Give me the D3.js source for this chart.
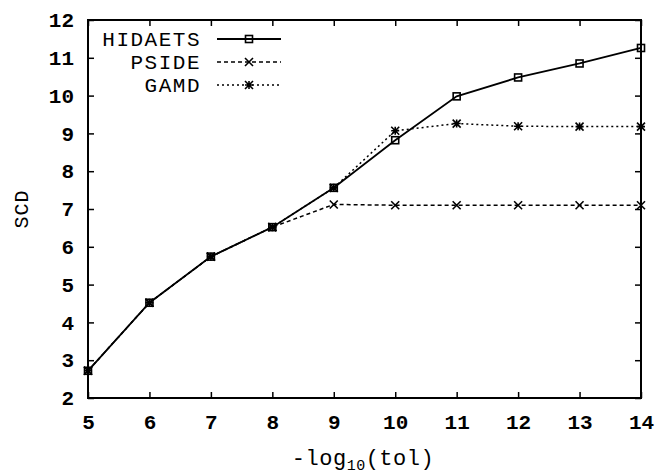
<!DOCTYPE html>
<html><head><meta charset="utf-8">
<script src="https://cdn.jsdelivr.net/npm/d3@7"></script>
<style>body{margin:0;background:#fff}</style>
</head><body>
<svg id="c" width="656" height="474"></svg>
<script>
const xs = [5,6,7,8,9,10,11,12,13,14];
const hidaets = [2.72,4.52,5.74,6.52,7.56,8.82,9.98,10.48,10.85,11.26];
const pside   = [2.72,4.52,5.74,6.52,7.12,7.10,7.10,7.10,7.10,7.10];
const gamd    = [2.72,4.52,5.74,6.52,7.56,9.07,9.26,9.19,9.18,9.18];
const seriesNames = ["HIDAETS","PSIDE","GAMD"];
const xTicks = [5,6,7,8,9,10,11,12,13,14];
const yTicks = [2,3,4,5,6,7,8,9,10,11,12];

const svg = d3.select("#c");
const L=88, R=641, T=20, B=398;
const x = d3.scaleLinear().domain([5,14]).range([L,R]);
const y = d3.scaleLinear().domain([2,12]).range([B,T]);
const font = "'Liberation Mono','DejaVu Sans Mono',monospace";

const axB = d3.axisBottom(x).tickValues(xTicks).tickSize(-6).tickPadding(16).tickFormat(d3.format("d"));
const axT = d3.axisTop(x).tickValues(xTicks).tickSize(-6).tickFormat("");
const axLft = d3.axisLeft(y).tickValues(yTicks).tickSize(-6).tickPadding(14).tickFormat(d3.format("d"));
const axRt = d3.axisRight(y).tickValues(yTicks).tickSize(-6).tickFormat("");

function style(g){
  g.select(".domain").remove();
  g.selectAll("line").attr("stroke","#000").attr("stroke-width",1.5);
  g.selectAll("text").attr("font-family",font).attr("font-size",21).attr("font-weight","bold").attr("fill","#000");
}
svg.append("g").attr("transform",`translate(0,${B})`).call(axB).call(style);
svg.append("g").attr("transform",`translate(0,${T})`).call(axT).call(style);
svg.append("g").attr("transform",`translate(${L},0)`).call(axLft).call(style);
svg.append("g").attr("transform",`translate(${R},0)`).call(axRt).call(style);

svg.append("rect").attr("x",L).attr("y",T).attr("width",R-L).attr("height",B-T)
  .attr("fill","none").attr("stroke","#000").attr("stroke-width",2);

const xt = svg.append("text").attr("x",363).attr("y",465).attr("text-anchor","middle")
  .attr("font-family",font).attr("font-size",22).attr("letter-spacing",0.5).attr("fill","#000");
xt.append("tspan").text("-log");
xt.append("tspan").attr("font-size",15).attr("dy",5).text("10");
xt.append("tspan").attr("dy",-5).text("(tol)");

svg.append("text").attr("transform","translate(28,209) rotate(-90)").attr("text-anchor","middle")
  .attr("font-family",font).attr("font-size",20).attr("letter-spacing",1).attr("fill","#000").text("SCD");

const line = d3.line().x((d,i)=>x(xs[i])).y(d=>y(d));
const styles = [
  {data:hidaets, dash:null, w:1.8, marker:"square"},
  {data:pside, dash:"4,3", w:1.5, marker:"cross"},
  {data:gamd, dash:"2,3", w:1.5, marker:"star"}
];

function drawMarker(g, type, cx, cy){
  if(type==="square"){
    g.append("rect").attr("x",cx-3.5).attr("y",cy-3.5).attr("width",7).attr("height",7)
      .attr("fill","none").attr("stroke","#000").attr("stroke-width",1.6);
  } else if(type==="cross"){
    g.append("path").attr("d",`M${cx-4},${cy-4}L${cx+4},${cy+4}M${cx-4},${cy+4}L${cx+4},${cy-4}`)
      .attr("stroke","#000").attr("stroke-width",1.6);
  } else {
    g.append("path").attr("d",`M${cx-4},${cy-4}L${cx+4},${cy+4}M${cx-4},${cy+4}L${cx+4},${cy-4}M${cx-4},${cy}L${cx+4},${cy}M${cx},${cy-4}L${cx},${cy+4}`)
      .attr("stroke","#000").attr("stroke-width",1.6);
  }
}

[2,1,0].forEach(k=>{
  const s = styles[k];
  svg.append("path").datum(s.data).attr("d",line).attr("fill","none")
    .attr("stroke","#000").attr("stroke-width",s.w).attr("stroke-dasharray",s.dash);
  const g = svg.append("g");
  s.data.forEach((v,i)=>drawMarker(g,s.marker,x(xs[i]),y(v)));
});

const lg = svg.append("g");
seriesNames.forEach((n,i)=>{
  const yy = 39 + i*23;
  lg.append("text").attr("x",201).attr("y",yy+7).attr("text-anchor","end")
    .attr("font-family",font).attr("font-size",21).attr("letter-spacing",1.5).attr("fill","#000").text(n);
  lg.append("line").attr("x1",217).attr("x2",281).attr("y1",yy).attr("y2",yy)
    .attr("stroke","#000").attr("stroke-width",styles[i].w).attr("stroke-dasharray",styles[i].dash);
  drawMarker(lg, styles[i].marker, 249, yy);
});
</script>
</body></html>
